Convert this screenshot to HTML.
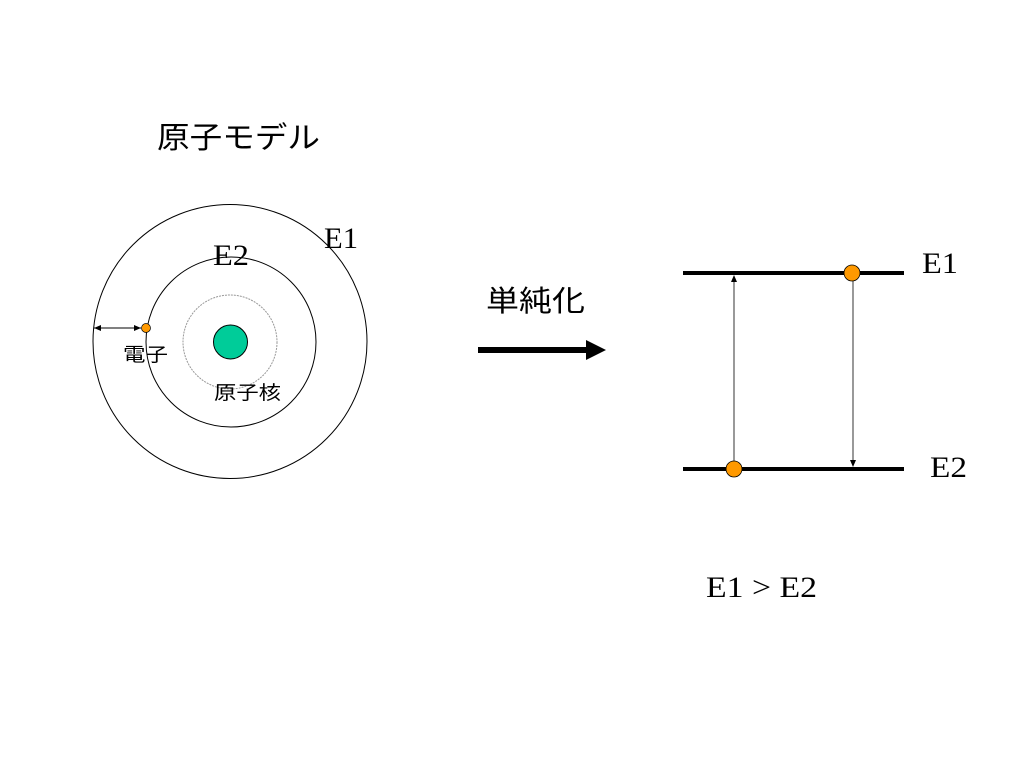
<!DOCTYPE html>
<html><head><meta charset="utf-8"><style>
body{margin:0;background:#fff;}
svg{display:block}
.s{font-family:"Liberation Serif","Noto Serif CJK SC",serif;}
.j{font-family:"Liberation Sans","Noto Sans CJK JP",sans-serif;}
</style></head><body>
<svg width="1024" height="768" viewBox="0 0 1024 768" xmlns="http://www.w3.org/2000/svg">
<text x="157" y="148" class="j" font-size="30" textLength="163" lengthAdjust="spacingAndGlyphs">原子モデル</text>
<circle cx="230" cy="341.5" r="137" fill="none" stroke="#000" stroke-width="1"/>
<circle cx="231" cy="342" r="85" fill="none" stroke="#000" stroke-width="1"/>
<circle cx="230" cy="342" r="47" fill="none" stroke="#999" stroke-width="1" stroke-dasharray="2,1"/>
<circle cx="230.5" cy="342" r="17" fill="#00cc99" stroke="#000" stroke-width="1"/>
<line x1="94" y1="328" x2="141" y2="328" stroke="#000" stroke-width="1"/>
<polygon points="94,328 101,325 101,331" fill="#000"/>
<polygon points="141,328 134,325 134,331" fill="#000"/>
<circle cx="146" cy="328" r="4.5" fill="#ff9900" stroke="#000" stroke-width="0.7"/>
<text x="324" y="248" class="s" font-size="30" textLength="34" lengthAdjust="spacingAndGlyphs">E1</text>
<text x="213" y="265" class="s" font-size="30" textLength="36" lengthAdjust="spacingAndGlyphs">E2</text>
<text x="123" y="361" class="j" font-size="19" textLength="45" lengthAdjust="spacingAndGlyphs">電子</text>
<text x="214" y="399" class="j" font-size="19" textLength="67" lengthAdjust="spacingAndGlyphs">原子核</text>
<text x="486" y="311" class="j" font-size="29" textLength="99" lengthAdjust="spacingAndGlyphs">単純化</text>
<line x1="478" y1="350" x2="590" y2="350" stroke="#000" stroke-width="6"/>
<polygon points="606,350 586,340 586,360" fill="#000"/>
<line x1="683" y1="273" x2="904" y2="273" stroke="#000" stroke-width="4"/>
<line x1="683" y1="469" x2="904" y2="469" stroke="#000" stroke-width="4"/>
<line x1="734" y1="469" x2="734" y2="278" stroke="#000" stroke-width="0.8"/>
<polygon points="734,275 731,282 737,282" fill="#000"/>
<line x1="853" y1="273" x2="853" y2="462" stroke="#000" stroke-width="0.8"/>
<polygon points="853,467 850,460 856,460" fill="#000"/>
<circle cx="852" cy="273" r="8" fill="#ff9900" stroke="#000" stroke-width="0.8"/>
<circle cx="734" cy="469" r="8" fill="#ff9900" stroke="#000" stroke-width="0.8"/>
<text x="922" y="273" class="s" font-size="30" textLength="36" lengthAdjust="spacingAndGlyphs">E1</text>
<text x="930" y="477" class="s" font-size="30" textLength="37" lengthAdjust="spacingAndGlyphs">E2</text>
<text x="706" y="597" class="s" font-size="30" textLength="111" lengthAdjust="spacingAndGlyphs">E1 &gt; E2</text>
</svg>
</body></html>
